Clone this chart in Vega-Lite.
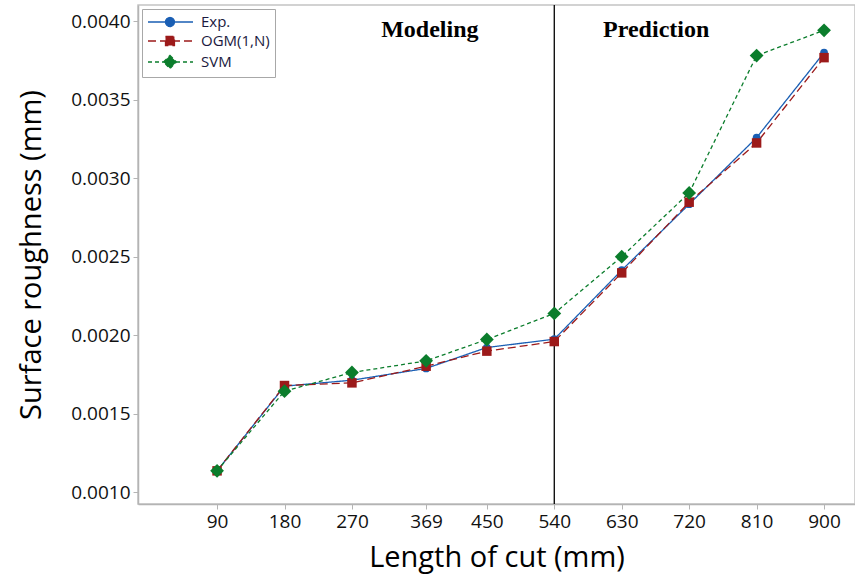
{
  "$schema": "https://vega.github.io/schema/vega-lite/v6.json",
  "width": 717,
  "height": 499,
  "autosize": {"type": "none"},
  "padding": {"left": 138, "top": 5, "right": 0, "bottom": 75},
  "background": "white",
  "datasets": {
    "series": [
      {"series": "Exp.", "cut": 90, "ra": 0.001137},
      {"series": "Exp.", "cut": 180, "ra": 0.001676},
      {"series": "Exp.", "cut": 270, "ra": 0.001714},
      {"series": "Exp.", "cut": 369, "ra": 0.001789},
      {"series": "Exp.", "cut": 450, "ra": 0.001922},
      {"series": "Exp.", "cut": 540, "ra": 0.001975},
      {"series": "Exp.", "cut": 630, "ra": 0.002414},
      {"series": "Exp.", "cut": 720, "ra": 0.002834},
      {"series": "Exp.", "cut": 810, "ra": 0.003258},
      {"series": "Exp.", "cut": 900, "ra": 0.003799},
      {"series": "OGM(1,N)", "cut": 90, "ra": 0.001137},
      {"series": "OGM(1,N)", "cut": 180, "ra": 0.00168},
      {"series": "OGM(1,N)", "cut": 270, "ra": 0.001697},
      {"series": "OGM(1,N)", "cut": 369, "ra": 0.001803},
      {"series": "OGM(1,N)", "cut": 450, "ra": 0.001899},
      {"series": "OGM(1,N)", "cut": 540, "ra": 0.00196},
      {"series": "OGM(1,N)", "cut": 630, "ra": 0.002397},
      {"series": "OGM(1,N)", "cut": 720, "ra": 0.002847},
      {"series": "OGM(1,N)", "cut": 810, "ra": 0.003224},
      {"series": "OGM(1,N)", "cut": 900, "ra": 0.003767},
      {"series": "SVM", "cut": 90, "ra": 0.001137},
      {"series": "SVM", "cut": 180, "ra": 0.001644},
      {"series": "SVM", "cut": 270, "ra": 0.001763},
      {"series": "SVM", "cut": 369, "ra": 0.001837},
      {"series": "SVM", "cut": 450, "ra": 0.001973},
      {"series": "SVM", "cut": 540, "ra": 0.002139},
      {"series": "SVM", "cut": 630, "ra": 0.0025},
      {"series": "SVM", "cut": 720, "ra": 0.002906},
      {"series": "SVM", "cut": 810, "ra": 0.00378},
      {"series": "SVM", "cut": 900, "ra": 0.003941}
    ],
    "labels": [
      {"label": "Modeling", "cut": 374, "ra": 0.0039},
      {"label": "Prediction", "cut": 676, "ra": 0.0039}
    ],
    "divider": [
      {"cut": 540}
    ]
  },
  "layer": [
    {
      "data": {"name": "divider"},
      "mark": {"type": "rule", "color": "#000000", "strokeWidth": 1.3},
      "encoding": {"x": {"field": "cut", "type": "quantitative"}}
    },
    {
      "data": {"name": "series"},
      "mark": {"type": "line", "strokeWidth": 1.3},
      "encoding": {
        "x": {"field": "cut", "type": "quantitative"},
        "y": {"field": "ra", "type": "quantitative"},
        "color": {
          "field": "series", "type": "nominal",
          "scale": {"domain": ["Exp.", "OGM(1,N)", "SVM"], "range": ["#1a5fb4", "#9c1a1a", "#0b7d2c"]},
          "legend": {
            "title": null,
            "orient": "top-left",
            "offset": 4,
            "padding": 5,
            "strokeColor": "#a8a8a8",
            "fillColor": "white",
            "symbolSize": 196,
            "symbolStrokeWidth": 1.3,
            "labelOffset": 38,
            "labelFont": "Open Sans",
            "labelFontSize": 15,
            "labelColor": "#1a1a40",
            "rowPadding": 3,
            "labelLimit": 200,
            "encode": {
              "symbols": {
                "update": {
                  "shape": {"signal": "datum.value === 'Exp.' ? 'M-1,0H5.43M1.5,0a0.64,0.64 0 1,0 1.28,0a0.64,0.64 0 1,0 -1.28,0' : datum.value === 'OGM(1,N)' ? 'M-1,0H5.43M1.5,-0.64H2.78V0.64H1.5Z' : 'M-1,0H5.43M2.14,-0.93L3.07,0L2.14,0.93L1.21,0Z'"},
                  "fill": {"signal": "scale('color', datum.value)"},
                  "stroke": {"signal": "scale('color', datum.value)"},
                  "strokeDash": {"signal": "datum.value === 'Exp.' ? [1,0] : datum.value === 'OGM(1,N)' ? [6,4] : [3,2]"},
                  "opacity": {"value": 1},
                  "fillOpacity": {"value": 1},
                  "strokeOpacity": {"value": 1}
                }
              }
            }
          }
        },
        "strokeDash": {
          "field": "series", "type": "nominal", "legend": null,
          "scale": {"domain": ["Exp.", "OGM(1,N)", "SVM"], "range": [[1, 0], [8, 4], [4, 3]]}
        }
      }
    },
    {
      "data": {"name": "series"},
      "transform": [{"filter": "datum.series === 'Exp.'"}],
      "mark": {"type": "point", "filled": true, "opacity": 1, "shape": "circle", "size": 60},
      "encoding": {
        "x": {"field": "cut", "type": "quantitative"},
        "y": {"field": "ra", "type": "quantitative"},
        "color": {"field": "series", "type": "nominal"}
      }
    },
    {
      "data": {"name": "series"},
      "transform": [{"filter": "datum.series === 'OGM(1,N)'"}],
      "mark": {"type": "point", "filled": true, "opacity": 1, "shape": "square", "size": 90},
      "encoding": {
        "x": {"field": "cut", "type": "quantitative"},
        "y": {"field": "ra", "type": "quantitative"},
        "color": {"field": "series", "type": "nominal"}
      }
    },
    {
      "data": {"name": "series"},
      "transform": [{"filter": "datum.series === 'SVM'"}],
      "mark": {"type": "point", "filled": true, "opacity": 1, "shape": "diamond", "size": 190},
      "encoding": {
        "x": {"field": "cut", "type": "quantitative"},
        "y": {"field": "ra", "type": "quantitative"},
        "color": {"field": "series", "type": "nominal"}
      }
    },
    {
      "data": {"name": "labels"},
      "mark": {"type": "text", "font": "Liberation Serif", "fontWeight": "bold", "fontSize": 24, "align": "center", "baseline": "alphabetic", "color": "#000000"},
      "encoding": {
        "x": {"field": "cut", "type": "quantitative"},
        "y": {"field": "ra", "type": "quantitative"},
        "text": {"field": "label"}
      }
    }
  ],
  "encoding": {
    "x": {
      "type": "quantitative",
      "title": "Length of cut (mm)",
      "scale": {"domain": [-15.5, 941.3], "nice": false, "zero": false},
      "axis": {"values": [90, 180, 270, 369, 450, 540, 630, 720, 810, 900], "format": "d", "titlePadding": 12}
    },
    "y": {
      "type": "quantitative",
      "title": "Surface roughness (mm)",
      "scale": {"domain": [0.000926, 0.004102], "nice": false, "zero": false},
      "axis": {"values": [0.001, 0.0015, 0.002, 0.0025, 0.003, 0.0035, 0.004], "format": ".4f", "titlePadding": 24}
    }
  },
  "config": {
    "view": {"stroke": "#c4c4c4", "strokeWidth": 1.5},
    "axis": {
      "grid": false,
      "domainColor": "#b4b4b4",
      "domainWidth": 1.5,
      "tickColor": "#b4b4b4",
      "tickSize": 5,
      "labelFont": "Open Sans",
      "labelFontSize": 19,
      "labelColor": "#111111",
      "labelPadding": 3,
      "titleFont": "Open Sans",
      "titleFontSize": 29,
      "titleFontWeight": "normal",
      "titleColor": "#000000"
    }
  }
}
